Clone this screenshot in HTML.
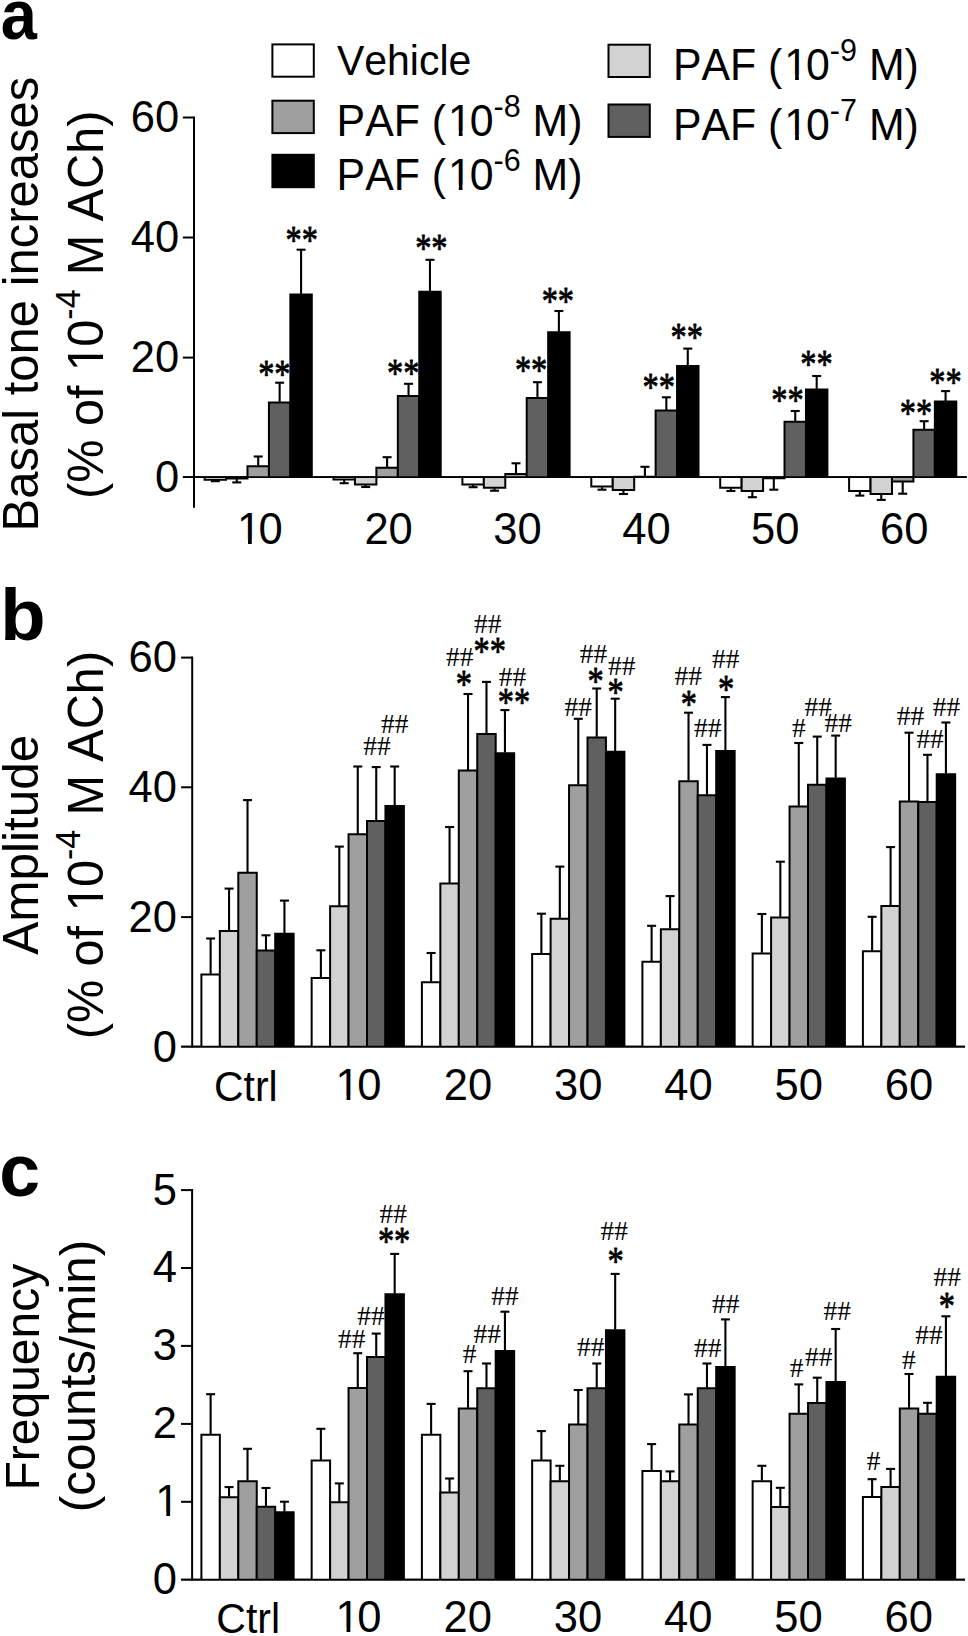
<!DOCTYPE html>
<html lang="en"><head><meta charset="utf-8"><title>Figure</title>
<style>html,body{margin:0;padding:0;background:#fff}svg{display:block}text{font-kerning:none;font-variant-ligatures:none}</style></head><body>
<svg width="968" height="1636" viewBox="0 0 968 1636">
<rect x="0" y="0" width="968" height="1636" fill="#fff"/>
<rect x="272.4" y="44.4" width="41.4" height="32.3" fill="#ffffff" stroke="#000" stroke-width="2"/>
<text transform="translate(336.9 74.5) scale(1 1.04)" font-family="'Liberation Sans', sans-serif" font-size="41" text-anchor="start">Vehicle</text>
<rect x="272.4" y="100.7" width="41.4" height="32.4" fill="#9f9f9f" stroke="#000" stroke-width="2"/>
<g transform="translate(336.6 135.5) scale(1 1.04)">
<text font-family="'Liberation Sans', sans-serif" font-size="42.8">PAF (<tspan dx="2">1</tspan><tspan dx="-2">0</tspan><tspan font-size="30.5" dy="-18">-8</tspan><tspan dy="18"> M)</tspan></text>
<rect x="113.11" y="-4.41" width="9.09" height="5.91" fill="#fff"/>
<rect x="125.95" y="-4.41" width="8.56" height="5.91" fill="#fff"/>
</g>
<rect x="272.4" y="154.8" width="41.4" height="32.4" fill="#000000" stroke="#000" stroke-width="2"/>
<g transform="translate(336.6 189.5) scale(1 1.04)">
<text font-family="'Liberation Sans', sans-serif" font-size="42.8">PAF (<tspan dx="2">1</tspan><tspan dx="-2">0</tspan><tspan font-size="30.5" dy="-18">-6</tspan><tspan dy="18"> M)</tspan></text>
<rect x="113.11" y="-4.41" width="9.09" height="5.91" fill="#fff"/>
<rect x="125.95" y="-4.41" width="8.56" height="5.91" fill="#fff"/>
</g>
<rect x="608.5" y="44.7" width="41.3" height="32.3" fill="#d2d2d2" stroke="#000" stroke-width="2"/>
<g transform="translate(672.9 79.5) scale(1 1.04)">
<text font-family="'Liberation Sans', sans-serif" font-size="42.8">PAF (<tspan dx="2">1</tspan><tspan dx="-2">0</tspan><tspan font-size="30.5" dy="-18">-9</tspan><tspan dy="18"> M)</tspan></text>
<rect x="113.11" y="-4.41" width="9.09" height="5.91" fill="#fff"/>
<rect x="125.95" y="-4.41" width="8.56" height="5.91" fill="#fff"/>
</g>
<rect x="608.5" y="104.5" width="41.3" height="32.4" fill="#606060" stroke="#000" stroke-width="2"/>
<g transform="translate(672.9 139.5) scale(1 1.04)">
<text font-family="'Liberation Sans', sans-serif" font-size="42.8">PAF (<tspan dx="2">1</tspan><tspan dx="-2">0</tspan><tspan font-size="30.5" dy="-18">-7</tspan><tspan dy="18"> M)</tspan></text>
<rect x="113.11" y="-4.41" width="9.09" height="5.91" fill="#fff"/>
<rect x="125.95" y="-4.41" width="8.56" height="5.91" fill="#fff"/>
</g>
<text transform="translate(0.7 39.2) scale(1 1.09)" font-family="'Liberation Sans', sans-serif" font-size="65" text-anchor="start" font-weight="bold">a</text>
<line x1="194" y1="116.5" x2="194" y2="507.7" stroke="#000" stroke-width="2" stroke-linecap="butt"/>
<line x1="182.9" y1="477.2" x2="966.7" y2="477.2" stroke="#000" stroke-width="1.8" stroke-linecap="butt"/>
<line x1="182.9" y1="117.5" x2="194" y2="117.5" stroke="#000" stroke-width="2" stroke-linecap="butt"/>
<line x1="182.9" y1="237.5" x2="194" y2="237.5" stroke="#000" stroke-width="2" stroke-linecap="butt"/>
<line x1="182.9" y1="357.6" x2="194" y2="357.6" stroke="#000" stroke-width="2" stroke-linecap="butt"/>
<text transform="translate(179.2 132.2) scale(1 1)" font-family="'Liberation Sans', sans-serif" font-size="43.5" text-anchor="end">60</text>
<text transform="translate(179.2 252.2) scale(1 1)" font-family="'Liberation Sans', sans-serif" font-size="43.5" text-anchor="end">40</text>
<text transform="translate(179.2 372.3) scale(1 1)" font-family="'Liberation Sans', sans-serif" font-size="43.5" text-anchor="end">20</text>
<text transform="translate(179.2 491.9) scale(1 1)" font-family="'Liberation Sans', sans-serif" font-size="43.5" text-anchor="end">0</text>
<text transform="translate(37.5 531.5) rotate(-90) scale(1 1.02)" font-family="'Liberation Sans', sans-serif" font-size="49" text-anchor="start">Basal tone increases</text>
<g transform="translate(102.5 499) rotate(-90) scale(1 1.02)">
<text font-family="'Liberation Sans', sans-serif" font-size="48.6">(% of <tspan dx="0.8">1</tspan><tspan dx="-2.4">0</tspan><tspan font-size="34" dy="-22">-4</tspan><tspan dy="22" dx="0.6"> M ACh)</tspan></text>
<rect x="129.69" y="-5.01" width="10.33" height="6.51" fill="#fff"/>
<rect x="144.27" y="-5.01" width="9.72" height="6.51" fill="#fff"/>
</g>
<line x1="215.32" y1="480.3" x2="215.32" y2="481.2" stroke="#000" stroke-width="2.1" stroke-linecap="butt"/>
<line x1="210.82" y1="481.2" x2="219.82" y2="481.2" stroke="#000" stroke-width="2.1" stroke-linecap="butt"/>
<line x1="236.76" y1="479" x2="236.76" y2="482.4" stroke="#000" stroke-width="2.1" stroke-linecap="butt"/>
<line x1="232.26" y1="482.4" x2="241.26" y2="482.4" stroke="#000" stroke-width="2.1" stroke-linecap="butt"/>
<line x1="258.2" y1="465.6" x2="258.2" y2="456.5" stroke="#000" stroke-width="2.1" stroke-linecap="butt"/>
<line x1="253.7" y1="456.5" x2="262.7" y2="456.5" stroke="#000" stroke-width="2.1" stroke-linecap="butt"/>
<line x1="279.64" y1="401.8" x2="279.64" y2="382.7" stroke="#000" stroke-width="2.1" stroke-linecap="butt"/>
<line x1="275.14" y1="382.7" x2="284.14" y2="382.7" stroke="#000" stroke-width="2.1" stroke-linecap="butt"/>
<line x1="301.08" y1="293.8" x2="301.08" y2="249.7" stroke="#000" stroke-width="2.1" stroke-linecap="butt"/>
<line x1="296.58" y1="249.7" x2="305.58" y2="249.7" stroke="#000" stroke-width="2.1" stroke-linecap="butt"/>
<path d="M204.6 477.2V479.7H226.04V477.2" fill="#ffffff" stroke="#000" stroke-width="2" stroke-linejoin="miter"/>
<path d="M226.04 477.2V478.4H247.48V477.2" fill="#d2d2d2" stroke="#000" stroke-width="2" stroke-linejoin="miter"/>
<path d="M247.48 477.2V466.2H268.92V477.2" fill="#9f9f9f" stroke="#000" stroke-width="2" stroke-linejoin="miter"/>
<path d="M268.92 477.2V402.4H290.36V477.2" fill="#606060" stroke="#000" stroke-width="2" stroke-linejoin="miter"/>
<path d="M290.36 477.2V294.4H311.8V477.2" fill="#000000" stroke="#000" stroke-width="2" stroke-linejoin="miter"/>
<line x1="344.22" y1="480" x2="344.22" y2="483.2" stroke="#000" stroke-width="2.1" stroke-linecap="butt"/>
<line x1="339.72" y1="483.2" x2="348.72" y2="483.2" stroke="#000" stroke-width="2.1" stroke-linecap="butt"/>
<line x1="365.66" y1="485.1" x2="365.66" y2="487" stroke="#000" stroke-width="2.1" stroke-linecap="butt"/>
<line x1="361.16" y1="487" x2="370.16" y2="487" stroke="#000" stroke-width="2.1" stroke-linecap="butt"/>
<line x1="387.1" y1="467.1" x2="387.1" y2="457.2" stroke="#000" stroke-width="2.1" stroke-linecap="butt"/>
<line x1="382.6" y1="457.2" x2="391.6" y2="457.2" stroke="#000" stroke-width="2.1" stroke-linecap="butt"/>
<line x1="408.54" y1="395.4" x2="408.54" y2="383.8" stroke="#000" stroke-width="2.1" stroke-linecap="butt"/>
<line x1="404.04" y1="383.8" x2="413.04" y2="383.8" stroke="#000" stroke-width="2.1" stroke-linecap="butt"/>
<line x1="429.98" y1="291.2" x2="429.98" y2="259.8" stroke="#000" stroke-width="2.1" stroke-linecap="butt"/>
<line x1="425.48" y1="259.8" x2="434.48" y2="259.8" stroke="#000" stroke-width="2.1" stroke-linecap="butt"/>
<path d="M333.5 477.2V479.4H354.94V477.2" fill="#ffffff" stroke="#000" stroke-width="2" stroke-linejoin="miter"/>
<path d="M354.94 477.2V484.5H376.38V477.2" fill="#d2d2d2" stroke="#000" stroke-width="2" stroke-linejoin="miter"/>
<path d="M376.38 477.2V467.7H397.82V477.2" fill="#9f9f9f" stroke="#000" stroke-width="2" stroke-linejoin="miter"/>
<path d="M397.82 477.2V396H419.26V477.2" fill="#606060" stroke="#000" stroke-width="2" stroke-linejoin="miter"/>
<path d="M419.26 477.2V291.8H440.7V477.2" fill="#000000" stroke="#000" stroke-width="2" stroke-linejoin="miter"/>
<line x1="473.12" y1="485.1" x2="473.12" y2="487.2" stroke="#000" stroke-width="2.1" stroke-linecap="butt"/>
<line x1="468.62" y1="487.2" x2="477.62" y2="487.2" stroke="#000" stroke-width="2.1" stroke-linecap="butt"/>
<line x1="494.56" y1="488.3" x2="494.56" y2="490.7" stroke="#000" stroke-width="2.1" stroke-linecap="butt"/>
<line x1="490.06" y1="490.7" x2="499.06" y2="490.7" stroke="#000" stroke-width="2.1" stroke-linecap="butt"/>
<line x1="516" y1="473.5" x2="516" y2="463.3" stroke="#000" stroke-width="2.1" stroke-linecap="butt"/>
<line x1="511.5" y1="463.3" x2="520.5" y2="463.3" stroke="#000" stroke-width="2.1" stroke-linecap="butt"/>
<line x1="537.44" y1="397.5" x2="537.44" y2="382.2" stroke="#000" stroke-width="2.1" stroke-linecap="butt"/>
<line x1="532.94" y1="382.2" x2="541.94" y2="382.2" stroke="#000" stroke-width="2.1" stroke-linecap="butt"/>
<line x1="558.88" y1="331.7" x2="558.88" y2="311" stroke="#000" stroke-width="2.1" stroke-linecap="butt"/>
<line x1="554.38" y1="311" x2="563.38" y2="311" stroke="#000" stroke-width="2.1" stroke-linecap="butt"/>
<path d="M462.4 477.2V484.5H483.84V477.2" fill="#ffffff" stroke="#000" stroke-width="2" stroke-linejoin="miter"/>
<path d="M483.84 477.2V487.7H505.28V477.2" fill="#d2d2d2" stroke="#000" stroke-width="2" stroke-linejoin="miter"/>
<path d="M505.28 477.2V474.1H526.72V477.2" fill="#9f9f9f" stroke="#000" stroke-width="2" stroke-linejoin="miter"/>
<path d="M526.72 477.2V398.1H548.16V477.2" fill="#606060" stroke="#000" stroke-width="2" stroke-linejoin="miter"/>
<path d="M548.16 477.2V332.3H569.6V477.2" fill="#000000" stroke="#000" stroke-width="2" stroke-linejoin="miter"/>
<line x1="602.02" y1="487.2" x2="602.02" y2="489.7" stroke="#000" stroke-width="2.1" stroke-linecap="butt"/>
<line x1="597.52" y1="489.7" x2="606.52" y2="489.7" stroke="#000" stroke-width="2.1" stroke-linecap="butt"/>
<line x1="623.46" y1="490.5" x2="623.46" y2="494" stroke="#000" stroke-width="2.1" stroke-linecap="butt"/>
<line x1="618.96" y1="494" x2="627.96" y2="494" stroke="#000" stroke-width="2.1" stroke-linecap="butt"/>
<line x1="644.9" y1="476.2" x2="644.9" y2="466.8" stroke="#000" stroke-width="2.1" stroke-linecap="butt"/>
<line x1="640.4" y1="466.8" x2="649.4" y2="466.8" stroke="#000" stroke-width="2.1" stroke-linecap="butt"/>
<line x1="666.34" y1="409.9" x2="666.34" y2="397.3" stroke="#000" stroke-width="2.1" stroke-linecap="butt"/>
<line x1="661.84" y1="397.3" x2="670.84" y2="397.3" stroke="#000" stroke-width="2.1" stroke-linecap="butt"/>
<line x1="687.78" y1="365.3" x2="687.78" y2="348.6" stroke="#000" stroke-width="2.1" stroke-linecap="butt"/>
<line x1="683.28" y1="348.6" x2="692.28" y2="348.6" stroke="#000" stroke-width="2.1" stroke-linecap="butt"/>
<path d="M591.3 477.2V486.6H612.74V477.2" fill="#ffffff" stroke="#000" stroke-width="2" stroke-linejoin="miter"/>
<path d="M612.74 477.2V489.9H634.18V477.2" fill="#d2d2d2" stroke="#000" stroke-width="2" stroke-linejoin="miter"/>
<path d="M634.18 477.2V476.8H655.62V477.2" fill="#9f9f9f" stroke="#000" stroke-width="2" stroke-linejoin="miter"/>
<path d="M655.62 477.2V410.5H677.06V477.2" fill="#606060" stroke="#000" stroke-width="2" stroke-linejoin="miter"/>
<path d="M677.06 477.2V365.9H698.5V477.2" fill="#000000" stroke="#000" stroke-width="2" stroke-linejoin="miter"/>
<line x1="730.92" y1="488.3" x2="730.92" y2="491" stroke="#000" stroke-width="2.1" stroke-linecap="butt"/>
<line x1="726.42" y1="491" x2="735.42" y2="491" stroke="#000" stroke-width="2.1" stroke-linecap="butt"/>
<line x1="752.36" y1="491.5" x2="752.36" y2="497.2" stroke="#000" stroke-width="2.1" stroke-linecap="butt"/>
<line x1="747.86" y1="497.2" x2="756.86" y2="497.2" stroke="#000" stroke-width="2.1" stroke-linecap="butt"/>
<line x1="773.8" y1="478.9" x2="773.8" y2="489.7" stroke="#000" stroke-width="2.1" stroke-linecap="butt"/>
<line x1="769.3" y1="489.7" x2="778.3" y2="489.7" stroke="#000" stroke-width="2.1" stroke-linecap="butt"/>
<line x1="795.24" y1="421.2" x2="795.24" y2="411" stroke="#000" stroke-width="2.1" stroke-linecap="butt"/>
<line x1="790.74" y1="411" x2="799.74" y2="411" stroke="#000" stroke-width="2.1" stroke-linecap="butt"/>
<line x1="816.68" y1="388.9" x2="816.68" y2="376" stroke="#000" stroke-width="2.1" stroke-linecap="butt"/>
<line x1="812.18" y1="376" x2="821.18" y2="376" stroke="#000" stroke-width="2.1" stroke-linecap="butt"/>
<path d="M720.2 477.2V487.7H741.64V477.2" fill="#ffffff" stroke="#000" stroke-width="2" stroke-linejoin="miter"/>
<path d="M741.64 477.2V490.9H763.08V477.2" fill="#d2d2d2" stroke="#000" stroke-width="2" stroke-linejoin="miter"/>
<path d="M763.08 477.2V478.3H784.52V477.2" fill="#9f9f9f" stroke="#000" stroke-width="2" stroke-linejoin="miter"/>
<path d="M784.52 477.2V421.8H805.96V477.2" fill="#606060" stroke="#000" stroke-width="2" stroke-linejoin="miter"/>
<path d="M805.96 477.2V389.5H827.4V477.2" fill="#000000" stroke="#000" stroke-width="2" stroke-linejoin="miter"/>
<line x1="859.82" y1="491.5" x2="859.82" y2="495.6" stroke="#000" stroke-width="2.1" stroke-linecap="butt"/>
<line x1="855.32" y1="495.6" x2="864.32" y2="495.6" stroke="#000" stroke-width="2.1" stroke-linecap="butt"/>
<line x1="881.26" y1="494.5" x2="881.26" y2="499.9" stroke="#000" stroke-width="2.1" stroke-linecap="butt"/>
<line x1="876.76" y1="499.9" x2="885.76" y2="499.9" stroke="#000" stroke-width="2.1" stroke-linecap="butt"/>
<line x1="902.7" y1="482.1" x2="902.7" y2="493.7" stroke="#000" stroke-width="2.1" stroke-linecap="butt"/>
<line x1="898.2" y1="493.7" x2="907.2" y2="493.7" stroke="#000" stroke-width="2.1" stroke-linecap="butt"/>
<line x1="924.14" y1="429.2" x2="924.14" y2="421.2" stroke="#000" stroke-width="2.1" stroke-linecap="butt"/>
<line x1="919.64" y1="421.2" x2="928.64" y2="421.2" stroke="#000" stroke-width="2.1" stroke-linecap="butt"/>
<line x1="945.58" y1="401" x2="945.58" y2="391.1" stroke="#000" stroke-width="2.1" stroke-linecap="butt"/>
<line x1="941.08" y1="391.1" x2="950.08" y2="391.1" stroke="#000" stroke-width="2.1" stroke-linecap="butt"/>
<path d="M849.1 477.2V490.9H870.54V477.2" fill="#ffffff" stroke="#000" stroke-width="2" stroke-linejoin="miter"/>
<path d="M870.54 477.2V493.9H891.98V477.2" fill="#d2d2d2" stroke="#000" stroke-width="2" stroke-linejoin="miter"/>
<path d="M891.98 477.2V481.5H913.42V477.2" fill="#9f9f9f" stroke="#000" stroke-width="2" stroke-linejoin="miter"/>
<path d="M913.42 477.2V429.8H934.86V477.2" fill="#606060" stroke="#000" stroke-width="2" stroke-linejoin="miter"/>
<path d="M934.86 477.2V401.6H956.3V477.2" fill="#000000" stroke="#000" stroke-width="2" stroke-linejoin="miter"/>
<line x1="182.9" y1="477.2" x2="966.7" y2="477.2" stroke="#000" stroke-width="1.8" stroke-linecap="butt"/>
<g transform="translate(235.01 544)">
<text font-family="'Liberation Sans', sans-serif" font-size="43.5"><tspan dx="2">1</tspan><tspan dx="-2.6">0</tspan></text>
<rect x="3.74" y="-4.48" width="9.24" height="5.98" fill="#fff"/>
<rect x="16.79" y="-4.48" width="8.7" height="5.98" fill="#fff"/>
</g>
<text transform="translate(388.6 544) scale(1 1)" font-family="'Liberation Sans', sans-serif" font-size="43.5" text-anchor="middle">20</text>
<text transform="translate(517.5 544) scale(1 1)" font-family="'Liberation Sans', sans-serif" font-size="43.5" text-anchor="middle">30</text>
<text transform="translate(646.4 544) scale(1 1)" font-family="'Liberation Sans', sans-serif" font-size="43.5" text-anchor="middle">40</text>
<text transform="translate(775.3 544) scale(1 1)" font-family="'Liberation Sans', sans-serif" font-size="43.5" text-anchor="middle">50</text>
<text transform="translate(904.2 544) scale(1 1)" font-family="'Liberation Sans', sans-serif" font-size="43.5" text-anchor="middle">60</text>
<text transform="translate(274.35 386.68) scale(1 1.22)" font-family="'Liberation Serif', serif" font-size="32.4" text-anchor="middle" stroke="#000" stroke-width="0.7" stroke-linejoin="round">**</text>
<text transform="translate(301.75 252.88) scale(1 1.22)" font-family="'Liberation Serif', serif" font-size="32.4" text-anchor="middle" stroke="#000" stroke-width="0.7" stroke-linejoin="round">**</text>
<text transform="translate(403.15 385.78) scale(1 1.22)" font-family="'Liberation Serif', serif" font-size="32.4" text-anchor="middle" stroke="#000" stroke-width="0.7" stroke-linejoin="round">**</text>
<text transform="translate(431.35 261.38) scale(1 1.22)" font-family="'Liberation Serif', serif" font-size="32.4" text-anchor="middle" stroke="#000" stroke-width="0.7" stroke-linejoin="round">**</text>
<text transform="translate(531.1 382.88) scale(1 1.22)" font-family="'Liberation Serif', serif" font-size="32.4" text-anchor="middle" stroke="#000" stroke-width="0.7" stroke-linejoin="round">**</text>
<text transform="translate(557.85 314.38) scale(1 1.22)" font-family="'Liberation Serif', serif" font-size="32.4" text-anchor="middle" stroke="#000" stroke-width="0.7" stroke-linejoin="round">**</text>
<text transform="translate(658.75 399.78) scale(1 1.22)" font-family="'Liberation Serif', serif" font-size="32.4" text-anchor="middle" stroke="#000" stroke-width="0.7" stroke-linejoin="round">**</text>
<text transform="translate(686.65 350.08) scale(1 1.22)" font-family="'Liberation Serif', serif" font-size="32.4" text-anchor="middle" stroke="#000" stroke-width="0.7" stroke-linejoin="round">**</text>
<text transform="translate(787.5 413.18) scale(1 1.22)" font-family="'Liberation Serif', serif" font-size="32.4" text-anchor="middle" stroke="#000" stroke-width="0.7" stroke-linejoin="round">**</text>
<text transform="translate(816.5 377.38) scale(1 1.22)" font-family="'Liberation Serif', serif" font-size="32.4" text-anchor="middle" stroke="#000" stroke-width="0.7" stroke-linejoin="round">**</text>
<text transform="translate(915.9 425.78) scale(1 1.22)" font-family="'Liberation Serif', serif" font-size="32.4" text-anchor="middle" stroke="#000" stroke-width="0.7" stroke-linejoin="round">**</text>
<text transform="translate(945.45 394.98) scale(1 1.22)" font-family="'Liberation Serif', serif" font-size="32.4" text-anchor="middle" stroke="#000" stroke-width="0.7" stroke-linejoin="round">**</text>
<text transform="translate(0.13 639.5) scale(1 0.98)" font-family="'Liberation Sans', sans-serif" font-size="74.3" text-anchor="start" font-weight="bold">b</text>
<line x1="192.2" y1="656.6" x2="192.2" y2="1047.6" stroke="#000" stroke-width="2" stroke-linecap="butt"/>
<line x1="181.1" y1="1046.6" x2="965" y2="1046.6" stroke="#000" stroke-width="1.8" stroke-linecap="butt"/>
<line x1="181.1" y1="657.6" x2="192.2" y2="657.6" stroke="#000" stroke-width="2" stroke-linecap="butt"/>
<line x1="181.1" y1="787.3" x2="192.2" y2="787.3" stroke="#000" stroke-width="2" stroke-linecap="butt"/>
<line x1="181.1" y1="917.1" x2="192.2" y2="917.1" stroke="#000" stroke-width="2" stroke-linecap="butt"/>
<text transform="translate(177 672.3) scale(1 1)" font-family="'Liberation Sans', sans-serif" font-size="43.5" text-anchor="end">60</text>
<text transform="translate(177 802) scale(1 1)" font-family="'Liberation Sans', sans-serif" font-size="43.5" text-anchor="end">40</text>
<text transform="translate(177 931.8) scale(1 1)" font-family="'Liberation Sans', sans-serif" font-size="43.5" text-anchor="end">20</text>
<text transform="translate(177 1061.5) scale(1 1)" font-family="'Liberation Sans', sans-serif" font-size="43.5" text-anchor="end">0</text>
<text transform="translate(37.5 954.75) rotate(-90) scale(1 1.02)" font-family="'Liberation Sans', sans-serif" font-size="49.5" text-anchor="start">Amplitude</text>
<g transform="translate(102.5 1039.3) rotate(-90) scale(1 1.02)">
<text font-family="'Liberation Sans', sans-serif" font-size="48.6">(% of <tspan dx="0.8">1</tspan><tspan dx="-2.4">0</tspan><tspan font-size="34" dy="-22">-4</tspan><tspan dy="22" dx="0.6"> M ACh)</tspan></text>
<rect x="129.69" y="-5.01" width="10.33" height="6.51" fill="#fff"/>
<rect x="144.27" y="-5.01" width="9.72" height="6.51" fill="#fff"/>
</g>
<line x1="210.62" y1="973.9" x2="210.62" y2="938.5" stroke="#000" stroke-width="2.1" stroke-linecap="butt"/>
<line x1="206.12" y1="938.5" x2="215.12" y2="938.5" stroke="#000" stroke-width="2.1" stroke-linecap="butt"/>
<line x1="229.07" y1="930.5" x2="229.07" y2="888.6" stroke="#000" stroke-width="2.1" stroke-linecap="butt"/>
<line x1="224.57" y1="888.6" x2="233.57" y2="888.6" stroke="#000" stroke-width="2.1" stroke-linecap="butt"/>
<line x1="247.53" y1="872.1" x2="247.53" y2="800.1" stroke="#000" stroke-width="2.1" stroke-linecap="butt"/>
<line x1="243.03" y1="800.1" x2="252.03" y2="800.1" stroke="#000" stroke-width="2.1" stroke-linecap="butt"/>
<line x1="265.98" y1="950" x2="265.98" y2="935.3" stroke="#000" stroke-width="2.1" stroke-linecap="butt"/>
<line x1="261.48" y1="935.3" x2="270.48" y2="935.3" stroke="#000" stroke-width="2.1" stroke-linecap="butt"/>
<line x1="284.43" y1="933.1" x2="284.43" y2="900.6" stroke="#000" stroke-width="2.1" stroke-linecap="butt"/>
<line x1="279.93" y1="900.6" x2="288.93" y2="900.6" stroke="#000" stroke-width="2.1" stroke-linecap="butt"/>
<path d="M201.4 1046.6V974.5H219.85V1046.6" fill="#ffffff" stroke="#000" stroke-width="2" stroke-linejoin="miter"/>
<path d="M219.85 1046.6V931.1H238.3V1046.6" fill="#d2d2d2" stroke="#000" stroke-width="2" stroke-linejoin="miter"/>
<path d="M238.3 1046.6V872.7H256.75V1046.6" fill="#9f9f9f" stroke="#000" stroke-width="2" stroke-linejoin="miter"/>
<path d="M256.75 1046.6V950.6H275.2V1046.6" fill="#606060" stroke="#000" stroke-width="2" stroke-linejoin="miter"/>
<path d="M275.2 1046.6V933.7H293.65V1046.6" fill="#000000" stroke="#000" stroke-width="2" stroke-linejoin="miter"/>
<line x1="320.88" y1="977.4" x2="320.88" y2="950.3" stroke="#000" stroke-width="2.1" stroke-linecap="butt"/>
<line x1="316.38" y1="950.3" x2="325.38" y2="950.3" stroke="#000" stroke-width="2.1" stroke-linecap="butt"/>
<line x1="339.32" y1="905.7" x2="339.32" y2="846.6" stroke="#000" stroke-width="2.1" stroke-linecap="butt"/>
<line x1="334.82" y1="846.6" x2="343.82" y2="846.6" stroke="#000" stroke-width="2.1" stroke-linecap="butt"/>
<line x1="357.77" y1="833.7" x2="357.77" y2="766.5" stroke="#000" stroke-width="2.1" stroke-linecap="butt"/>
<line x1="353.27" y1="766.5" x2="362.27" y2="766.5" stroke="#000" stroke-width="2.1" stroke-linecap="butt"/>
<line x1="376.23" y1="820.3" x2="376.23" y2="767.1" stroke="#000" stroke-width="2.1" stroke-linecap="butt"/>
<line x1="371.73" y1="767.1" x2="380.73" y2="767.1" stroke="#000" stroke-width="2.1" stroke-linecap="butt"/>
<line x1="394.68" y1="805.5" x2="394.68" y2="766.5" stroke="#000" stroke-width="2.1" stroke-linecap="butt"/>
<line x1="390.18" y1="766.5" x2="399.18" y2="766.5" stroke="#000" stroke-width="2.1" stroke-linecap="butt"/>
<path d="M311.65 1046.6V978H330.1V1046.6" fill="#ffffff" stroke="#000" stroke-width="2" stroke-linejoin="miter"/>
<path d="M330.1 1046.6V906.3H348.55V1046.6" fill="#d2d2d2" stroke="#000" stroke-width="2" stroke-linejoin="miter"/>
<path d="M348.55 1046.6V834.3H367V1046.6" fill="#9f9f9f" stroke="#000" stroke-width="2" stroke-linejoin="miter"/>
<path d="M367 1046.6V820.9H385.45V1046.6" fill="#606060" stroke="#000" stroke-width="2" stroke-linejoin="miter"/>
<path d="M385.45 1046.6V806.1H403.9V1046.6" fill="#000000" stroke="#000" stroke-width="2" stroke-linejoin="miter"/>
<line x1="431.12" y1="981.7" x2="431.12" y2="953" stroke="#000" stroke-width="2.1" stroke-linecap="butt"/>
<line x1="426.62" y1="953" x2="435.62" y2="953" stroke="#000" stroke-width="2.1" stroke-linecap="butt"/>
<line x1="449.57" y1="883" x2="449.57" y2="827" stroke="#000" stroke-width="2.1" stroke-linecap="butt"/>
<line x1="445.07" y1="827" x2="454.07" y2="827" stroke="#000" stroke-width="2.1" stroke-linecap="butt"/>
<line x1="468.02" y1="770" x2="468.02" y2="694" stroke="#000" stroke-width="2.1" stroke-linecap="butt"/>
<line x1="463.52" y1="694" x2="472.52" y2="694" stroke="#000" stroke-width="2.1" stroke-linecap="butt"/>
<line x1="486.48" y1="733.5" x2="486.48" y2="681.9" stroke="#000" stroke-width="2.1" stroke-linecap="butt"/>
<line x1="481.98" y1="681.9" x2="490.98" y2="681.9" stroke="#000" stroke-width="2.1" stroke-linecap="butt"/>
<line x1="504.93" y1="752.6" x2="504.93" y2="710.1" stroke="#000" stroke-width="2.1" stroke-linecap="butt"/>
<line x1="500.43" y1="710.1" x2="509.43" y2="710.1" stroke="#000" stroke-width="2.1" stroke-linecap="butt"/>
<path d="M421.9 1046.6V982.3H440.35V1046.6" fill="#ffffff" stroke="#000" stroke-width="2" stroke-linejoin="miter"/>
<path d="M440.35 1046.6V883.6H458.8V1046.6" fill="#d2d2d2" stroke="#000" stroke-width="2" stroke-linejoin="miter"/>
<path d="M458.8 1046.6V770.6H477.25V1046.6" fill="#9f9f9f" stroke="#000" stroke-width="2" stroke-linejoin="miter"/>
<path d="M477.25 1046.6V734.1H495.7V1046.6" fill="#606060" stroke="#000" stroke-width="2" stroke-linejoin="miter"/>
<path d="M495.7 1046.6V753.2H514.15V1046.6" fill="#000000" stroke="#000" stroke-width="2" stroke-linejoin="miter"/>
<line x1="541.38" y1="953.4" x2="541.38" y2="913.7" stroke="#000" stroke-width="2.1" stroke-linecap="butt"/>
<line x1="536.88" y1="913.7" x2="545.88" y2="913.7" stroke="#000" stroke-width="2.1" stroke-linecap="butt"/>
<line x1="559.83" y1="918.1" x2="559.83" y2="866.6" stroke="#000" stroke-width="2.1" stroke-linecap="butt"/>
<line x1="555.33" y1="866.6" x2="564.33" y2="866.6" stroke="#000" stroke-width="2.1" stroke-linecap="butt"/>
<line x1="578.27" y1="784.7" x2="578.27" y2="718.8" stroke="#000" stroke-width="2.1" stroke-linecap="butt"/>
<line x1="573.77" y1="718.8" x2="582.77" y2="718.8" stroke="#000" stroke-width="2.1" stroke-linecap="butt"/>
<line x1="596.73" y1="736.8" x2="596.73" y2="688.5" stroke="#000" stroke-width="2.1" stroke-linecap="butt"/>
<line x1="592.23" y1="688.5" x2="601.23" y2="688.5" stroke="#000" stroke-width="2.1" stroke-linecap="butt"/>
<line x1="615.17" y1="751.1" x2="615.17" y2="698.7" stroke="#000" stroke-width="2.1" stroke-linecap="butt"/>
<line x1="610.67" y1="698.7" x2="619.67" y2="698.7" stroke="#000" stroke-width="2.1" stroke-linecap="butt"/>
<path d="M532.15 1046.6V954H550.6V1046.6" fill="#ffffff" stroke="#000" stroke-width="2" stroke-linejoin="miter"/>
<path d="M550.6 1046.6V918.7H569.05V1046.6" fill="#d2d2d2" stroke="#000" stroke-width="2" stroke-linejoin="miter"/>
<path d="M569.05 1046.6V785.3H587.5V1046.6" fill="#9f9f9f" stroke="#000" stroke-width="2" stroke-linejoin="miter"/>
<path d="M587.5 1046.6V737.4H605.95V1046.6" fill="#606060" stroke="#000" stroke-width="2" stroke-linejoin="miter"/>
<path d="M605.95 1046.6V751.7H624.4V1046.6" fill="#000000" stroke="#000" stroke-width="2" stroke-linejoin="miter"/>
<line x1="651.62" y1="961.1" x2="651.62" y2="925.8" stroke="#000" stroke-width="2.1" stroke-linecap="butt"/>
<line x1="647.12" y1="925.8" x2="656.12" y2="925.8" stroke="#000" stroke-width="2.1" stroke-linecap="butt"/>
<line x1="670.08" y1="928.6" x2="670.08" y2="896.1" stroke="#000" stroke-width="2.1" stroke-linecap="butt"/>
<line x1="665.58" y1="896.1" x2="674.58" y2="896.1" stroke="#000" stroke-width="2.1" stroke-linecap="butt"/>
<line x1="688.52" y1="780.6" x2="688.52" y2="712.7" stroke="#000" stroke-width="2.1" stroke-linecap="butt"/>
<line x1="684.02" y1="712.7" x2="693.02" y2="712.7" stroke="#000" stroke-width="2.1" stroke-linecap="butt"/>
<line x1="706.98" y1="794.6" x2="706.98" y2="744.9" stroke="#000" stroke-width="2.1" stroke-linecap="butt"/>
<line x1="702.48" y1="744.9" x2="711.48" y2="744.9" stroke="#000" stroke-width="2.1" stroke-linecap="butt"/>
<line x1="725.42" y1="750.3" x2="725.42" y2="697.1" stroke="#000" stroke-width="2.1" stroke-linecap="butt"/>
<line x1="720.92" y1="697.1" x2="729.92" y2="697.1" stroke="#000" stroke-width="2.1" stroke-linecap="butt"/>
<path d="M642.4 1046.6V961.7H660.85V1046.6" fill="#ffffff" stroke="#000" stroke-width="2" stroke-linejoin="miter"/>
<path d="M660.85 1046.6V929.2H679.3V1046.6" fill="#d2d2d2" stroke="#000" stroke-width="2" stroke-linejoin="miter"/>
<path d="M679.3 1046.6V781.2H697.75V1046.6" fill="#9f9f9f" stroke="#000" stroke-width="2" stroke-linejoin="miter"/>
<path d="M697.75 1046.6V795.2H716.2V1046.6" fill="#606060" stroke="#000" stroke-width="2" stroke-linejoin="miter"/>
<path d="M716.2 1046.6V750.9H734.65V1046.6" fill="#000000" stroke="#000" stroke-width="2" stroke-linejoin="miter"/>
<line x1="761.88" y1="952.8" x2="761.88" y2="914" stroke="#000" stroke-width="2.1" stroke-linecap="butt"/>
<line x1="757.38" y1="914" x2="766.38" y2="914" stroke="#000" stroke-width="2.1" stroke-linecap="butt"/>
<line x1="780.33" y1="916.8" x2="780.33" y2="861.7" stroke="#000" stroke-width="2.1" stroke-linecap="butt"/>
<line x1="775.83" y1="861.7" x2="784.83" y2="861.7" stroke="#000" stroke-width="2.1" stroke-linecap="butt"/>
<line x1="798.77" y1="805.8" x2="798.77" y2="743" stroke="#000" stroke-width="2.1" stroke-linecap="butt"/>
<line x1="794.27" y1="743" x2="803.27" y2="743" stroke="#000" stroke-width="2.1" stroke-linecap="butt"/>
<line x1="817.23" y1="784.2" x2="817.23" y2="736.6" stroke="#000" stroke-width="2.1" stroke-linecap="butt"/>
<line x1="812.73" y1="736.6" x2="821.73" y2="736.6" stroke="#000" stroke-width="2.1" stroke-linecap="butt"/>
<line x1="835.67" y1="777.8" x2="835.67" y2="735.6" stroke="#000" stroke-width="2.1" stroke-linecap="butt"/>
<line x1="831.17" y1="735.6" x2="840.17" y2="735.6" stroke="#000" stroke-width="2.1" stroke-linecap="butt"/>
<path d="M752.65 1046.6V953.4H771.1V1046.6" fill="#ffffff" stroke="#000" stroke-width="2" stroke-linejoin="miter"/>
<path d="M771.1 1046.6V917.4H789.55V1046.6" fill="#d2d2d2" stroke="#000" stroke-width="2" stroke-linejoin="miter"/>
<path d="M789.55 1046.6V806.4H808V1046.6" fill="#9f9f9f" stroke="#000" stroke-width="2" stroke-linejoin="miter"/>
<path d="M808 1046.6V784.8H826.45V1046.6" fill="#606060" stroke="#000" stroke-width="2" stroke-linejoin="miter"/>
<path d="M826.45 1046.6V778.4H844.9V1046.6" fill="#000000" stroke="#000" stroke-width="2" stroke-linejoin="miter"/>
<line x1="872.12" y1="950.6" x2="872.12" y2="916.8" stroke="#000" stroke-width="2.1" stroke-linecap="butt"/>
<line x1="867.62" y1="916.8" x2="876.62" y2="916.8" stroke="#000" stroke-width="2.1" stroke-linecap="butt"/>
<line x1="890.58" y1="905.4" x2="890.58" y2="847.1" stroke="#000" stroke-width="2.1" stroke-linecap="butt"/>
<line x1="886.08" y1="847.1" x2="895.08" y2="847.1" stroke="#000" stroke-width="2.1" stroke-linecap="butt"/>
<line x1="909.02" y1="800.9" x2="909.02" y2="732.7" stroke="#000" stroke-width="2.1" stroke-linecap="butt"/>
<line x1="904.52" y1="732.7" x2="913.52" y2="732.7" stroke="#000" stroke-width="2.1" stroke-linecap="butt"/>
<line x1="927.48" y1="801.4" x2="927.48" y2="754.8" stroke="#000" stroke-width="2.1" stroke-linecap="butt"/>
<line x1="922.98" y1="754.8" x2="931.98" y2="754.8" stroke="#000" stroke-width="2.1" stroke-linecap="butt"/>
<line x1="945.92" y1="773.7" x2="945.92" y2="722.5" stroke="#000" stroke-width="2.1" stroke-linecap="butt"/>
<line x1="941.42" y1="722.5" x2="950.42" y2="722.5" stroke="#000" stroke-width="2.1" stroke-linecap="butt"/>
<path d="M862.9 1046.6V951.2H881.35V1046.6" fill="#ffffff" stroke="#000" stroke-width="2" stroke-linejoin="miter"/>
<path d="M881.35 1046.6V906H899.8V1046.6" fill="#d2d2d2" stroke="#000" stroke-width="2" stroke-linejoin="miter"/>
<path d="M899.8 1046.6V801.5H918.25V1046.6" fill="#9f9f9f" stroke="#000" stroke-width="2" stroke-linejoin="miter"/>
<path d="M918.25 1046.6V802H936.7V1046.6" fill="#606060" stroke="#000" stroke-width="2" stroke-linejoin="miter"/>
<path d="M936.7 1046.6V774.3H955.15V1046.6" fill="#000000" stroke="#000" stroke-width="2" stroke-linejoin="miter"/>
<line x1="181.1" y1="1046.6" x2="965" y2="1046.6" stroke="#000" stroke-width="1.8" stroke-linecap="butt"/>
<text transform="translate(245.8 1101.4) scale(1 1.04)" font-family="'Liberation Sans', sans-serif" font-size="41" text-anchor="middle">Ctrl</text>
<g transform="translate(333.56 1100.2)">
<text font-family="'Liberation Sans', sans-serif" font-size="43.5"><tspan dx="2">1</tspan><tspan dx="-2.6">0</tspan></text>
<rect x="3.74" y="-4.48" width="9.24" height="5.98" fill="#fff"/>
<rect x="16.79" y="-4.48" width="8.7" height="5.98" fill="#fff"/>
</g>
<text transform="translate(468 1100.2) scale(1 1)" font-family="'Liberation Sans', sans-serif" font-size="43.5" text-anchor="middle">20</text>
<text transform="translate(578.25 1100.2) scale(1 1)" font-family="'Liberation Sans', sans-serif" font-size="43.5" text-anchor="middle">30</text>
<text transform="translate(688.5 1100.2) scale(1 1)" font-family="'Liberation Sans', sans-serif" font-size="43.5" text-anchor="middle">40</text>
<text transform="translate(798.75 1100.2) scale(1 1)" font-family="'Liberation Sans', sans-serif" font-size="43.5" text-anchor="middle">50</text>
<text transform="translate(909 1100.2) scale(1 1)" font-family="'Liberation Sans', sans-serif" font-size="43.5" text-anchor="middle">60</text>
<text x="376.95" y="755.27" font-family="'Liberation Serif', serif" font-size="27.4" text-anchor="middle">##</text>
<text x="394.7" y="732.97" font-family="'Liberation Serif', serif" font-size="27.4" text-anchor="middle">##</text>
<text x="459.8" y="666.27" font-family="'Liberation Serif', serif" font-size="27.4" text-anchor="middle">##</text>
<text transform="translate(463.85 697.38) scale(1 1.22)" font-family="'Liberation Serif', serif" font-size="32.4" text-anchor="middle" stroke="#000" stroke-width="0.7" stroke-linejoin="round">*</text>
<text x="487.75" y="632.77" font-family="'Liberation Serif', serif" font-size="27.4" text-anchor="middle">##</text>
<text transform="translate(489.65 663.78) scale(1 1.22)" font-family="'Liberation Serif', serif" font-size="32.4" text-anchor="middle" stroke="#000" stroke-width="0.7" stroke-linejoin="round">**</text>
<text x="512.45" y="685.97" font-family="'Liberation Serif', serif" font-size="27.4" text-anchor="middle">##</text>
<text transform="translate(513.95 714.78) scale(1 1.22)" font-family="'Liberation Serif', serif" font-size="32.4" text-anchor="middle" stroke="#000" stroke-width="0.7" stroke-linejoin="round">**</text>
<text x="578.15" y="715.87" font-family="'Liberation Serif', serif" font-size="27.4" text-anchor="middle">##</text>
<text x="593.45" y="663.47" font-family="'Liberation Serif', serif" font-size="27.4" text-anchor="middle">##</text>
<text transform="translate(595.6 694.48) scale(1 1.22)" font-family="'Liberation Serif', serif" font-size="32.4" text-anchor="middle" stroke="#000" stroke-width="0.7" stroke-linejoin="round">*</text>
<text x="621.8" y="675.07" font-family="'Liberation Serif', serif" font-size="27.4" text-anchor="middle">##</text>
<text transform="translate(615.65 705.28) scale(1 1.22)" font-family="'Liberation Serif', serif" font-size="32.4" text-anchor="middle" stroke="#000" stroke-width="0.7" stroke-linejoin="round">*</text>
<text x="688.3" y="684.97" font-family="'Liberation Serif', serif" font-size="27.4" text-anchor="middle">##</text>
<text transform="translate(688.95 717.38) scale(1 1.22)" font-family="'Liberation Serif', serif" font-size="32.4" text-anchor="middle" stroke="#000" stroke-width="0.7" stroke-linejoin="round">*</text>
<text x="707.75" y="737.37" font-family="'Liberation Serif', serif" font-size="27.4" text-anchor="middle">##</text>
<text x="725.75" y="668.27" font-family="'Liberation Serif', serif" font-size="27.4" text-anchor="middle">##</text>
<text transform="translate(726 701.78) scale(1 1.22)" font-family="'Liberation Serif', serif" font-size="32.4" text-anchor="middle" stroke="#000" stroke-width="0.7" stroke-linejoin="round">*</text>
<text x="798.8" y="737.37" font-family="'Liberation Serif', serif" font-size="27.4" text-anchor="middle">#</text>
<text x="818.3" y="716.37" font-family="'Liberation Serif', serif" font-size="27.4" text-anchor="middle">##</text>
<text x="838.2" y="732.17" font-family="'Liberation Serif', serif" font-size="27.4" text-anchor="middle">##</text>
<text x="910.5" y="725.07" font-family="'Liberation Serif', serif" font-size="27.4" text-anchor="middle">##</text>
<text x="930.1" y="748.37" font-family="'Liberation Serif', serif" font-size="27.4" text-anchor="middle">##</text>
<text x="946.4" y="716.37" font-family="'Liberation Serif', serif" font-size="27.4" text-anchor="middle">##</text>
<text transform="translate(-0.77 1195.7) scale(1 1)" font-family="'Liberation Sans', sans-serif" font-size="73.4" text-anchor="start" font-weight="bold">c</text>
<line x1="192.1" y1="1189.1" x2="192.1" y2="1580.7" stroke="#000" stroke-width="2" stroke-linecap="butt"/>
<line x1="181" y1="1579.7" x2="965" y2="1579.7" stroke="#000" stroke-width="1.8" stroke-linecap="butt"/>
<line x1="181" y1="1190.1" x2="192.1" y2="1190.1" stroke="#000" stroke-width="2" stroke-linecap="butt"/>
<line x1="181" y1="1268" x2="192.1" y2="1268" stroke="#000" stroke-width="2" stroke-linecap="butt"/>
<line x1="181" y1="1345.9" x2="192.1" y2="1345.9" stroke="#000" stroke-width="2" stroke-linecap="butt"/>
<line x1="181" y1="1423.9" x2="192.1" y2="1423.9" stroke="#000" stroke-width="2" stroke-linecap="butt"/>
<line x1="181" y1="1501.8" x2="192.1" y2="1501.8" stroke="#000" stroke-width="2" stroke-linecap="butt"/>
<text transform="translate(176.9 1204.5) scale(1 1)" font-family="'Liberation Sans', sans-serif" font-size="43.5" text-anchor="end">5</text>
<text transform="translate(176.9 1282.4) scale(1 1)" font-family="'Liberation Sans', sans-serif" font-size="43.5" text-anchor="end">4</text>
<text transform="translate(176.9 1360.3) scale(1 1)" font-family="'Liberation Sans', sans-serif" font-size="43.5" text-anchor="end">3</text>
<text transform="translate(176.9 1438.3) scale(1 1)" font-family="'Liberation Sans', sans-serif" font-size="43.5" text-anchor="end">2</text>
<g transform="translate(152.71 1516.2)">
<text font-family="'Liberation Sans', sans-serif" font-size="43.5"><tspan dx="2.6">1</tspan></text>
<rect x="4.34" y="-4.48" width="9.24" height="5.98" fill="#fff"/>
<rect x="17.39" y="-4.48" width="8.7" height="5.98" fill="#fff"/>
</g>
<text transform="translate(176.9 1594.1) scale(1 1)" font-family="'Liberation Sans', sans-serif" font-size="43.5" text-anchor="end">0</text>
<text transform="translate(39 1490.5) rotate(-90) scale(1 1.02)" font-family="'Liberation Sans', sans-serif" font-size="48" text-anchor="start">Frequency</text>
<text transform="translate(95 1512.3) rotate(-90) scale(1 1.02)" font-family="'Liberation Sans', sans-serif" font-size="49.55" text-anchor="start">(counts/min)</text>
<line x1="210.62" y1="1434.1" x2="210.62" y2="1394.2" stroke="#000" stroke-width="2.1" stroke-linecap="butt"/>
<line x1="206.12" y1="1394.2" x2="215.12" y2="1394.2" stroke="#000" stroke-width="2.1" stroke-linecap="butt"/>
<line x1="229.07" y1="1496.6" x2="229.07" y2="1487.1" stroke="#000" stroke-width="2.1" stroke-linecap="butt"/>
<line x1="224.57" y1="1487.1" x2="233.57" y2="1487.1" stroke="#000" stroke-width="2.1" stroke-linecap="butt"/>
<line x1="247.53" y1="1480.7" x2="247.53" y2="1448.8" stroke="#000" stroke-width="2.1" stroke-linecap="butt"/>
<line x1="243.03" y1="1448.8" x2="252.03" y2="1448.8" stroke="#000" stroke-width="2.1" stroke-linecap="butt"/>
<line x1="265.98" y1="1506.2" x2="265.98" y2="1488" stroke="#000" stroke-width="2.1" stroke-linecap="butt"/>
<line x1="261.48" y1="1488" x2="270.48" y2="1488" stroke="#000" stroke-width="2.1" stroke-linecap="butt"/>
<line x1="284.43" y1="1511.6" x2="284.43" y2="1501.7" stroke="#000" stroke-width="2.1" stroke-linecap="butt"/>
<line x1="279.93" y1="1501.7" x2="288.93" y2="1501.7" stroke="#000" stroke-width="2.1" stroke-linecap="butt"/>
<path d="M201.4 1579.7V1434.7H219.85V1579.7" fill="#ffffff" stroke="#000" stroke-width="2" stroke-linejoin="miter"/>
<path d="M219.85 1579.7V1497.2H238.3V1579.7" fill="#d2d2d2" stroke="#000" stroke-width="2" stroke-linejoin="miter"/>
<path d="M238.3 1579.7V1481.3H256.75V1579.7" fill="#9f9f9f" stroke="#000" stroke-width="2" stroke-linejoin="miter"/>
<path d="M256.75 1579.7V1506.8H275.2V1579.7" fill="#606060" stroke="#000" stroke-width="2" stroke-linejoin="miter"/>
<path d="M275.2 1579.7V1512.2H293.65V1579.7" fill="#000000" stroke="#000" stroke-width="2" stroke-linejoin="miter"/>
<line x1="320.88" y1="1460" x2="320.88" y2="1428.8" stroke="#000" stroke-width="2.1" stroke-linecap="butt"/>
<line x1="316.38" y1="1428.8" x2="325.38" y2="1428.8" stroke="#000" stroke-width="2.1" stroke-linecap="butt"/>
<line x1="339.32" y1="1501.7" x2="339.32" y2="1483.4" stroke="#000" stroke-width="2.1" stroke-linecap="butt"/>
<line x1="334.82" y1="1483.4" x2="343.82" y2="1483.4" stroke="#000" stroke-width="2.1" stroke-linecap="butt"/>
<line x1="357.77" y1="1387.5" x2="357.77" y2="1353.2" stroke="#000" stroke-width="2.1" stroke-linecap="butt"/>
<line x1="353.27" y1="1353.2" x2="362.27" y2="1353.2" stroke="#000" stroke-width="2.1" stroke-linecap="butt"/>
<line x1="376.23" y1="1356.5" x2="376.23" y2="1333.6" stroke="#000" stroke-width="2.1" stroke-linecap="butt"/>
<line x1="371.73" y1="1333.6" x2="380.73" y2="1333.6" stroke="#000" stroke-width="2.1" stroke-linecap="butt"/>
<line x1="394.68" y1="1293.6" x2="394.68" y2="1253.9" stroke="#000" stroke-width="2.1" stroke-linecap="butt"/>
<line x1="390.18" y1="1253.9" x2="399.18" y2="1253.9" stroke="#000" stroke-width="2.1" stroke-linecap="butt"/>
<path d="M311.65 1579.7V1460.6H330.1V1579.7" fill="#ffffff" stroke="#000" stroke-width="2" stroke-linejoin="miter"/>
<path d="M330.1 1579.7V1502.3H348.55V1579.7" fill="#d2d2d2" stroke="#000" stroke-width="2" stroke-linejoin="miter"/>
<path d="M348.55 1579.7V1388.1H367V1579.7" fill="#9f9f9f" stroke="#000" stroke-width="2" stroke-linejoin="miter"/>
<path d="M367 1579.7V1357.1H385.45V1579.7" fill="#606060" stroke="#000" stroke-width="2" stroke-linejoin="miter"/>
<path d="M385.45 1579.7V1294.2H403.9V1579.7" fill="#000000" stroke="#000" stroke-width="2" stroke-linejoin="miter"/>
<line x1="431.12" y1="1434.2" x2="431.12" y2="1403.9" stroke="#000" stroke-width="2.1" stroke-linecap="butt"/>
<line x1="426.62" y1="1403.9" x2="435.62" y2="1403.9" stroke="#000" stroke-width="2.1" stroke-linecap="butt"/>
<line x1="449.57" y1="1491.8" x2="449.57" y2="1478.5" stroke="#000" stroke-width="2.1" stroke-linecap="butt"/>
<line x1="445.07" y1="1478.5" x2="454.07" y2="1478.5" stroke="#000" stroke-width="2.1" stroke-linecap="butt"/>
<line x1="468.02" y1="1407.8" x2="468.02" y2="1371.2" stroke="#000" stroke-width="2.1" stroke-linecap="butt"/>
<line x1="463.52" y1="1371.2" x2="472.52" y2="1371.2" stroke="#000" stroke-width="2.1" stroke-linecap="butt"/>
<line x1="486.48" y1="1387.6" x2="486.48" y2="1363.5" stroke="#000" stroke-width="2.1" stroke-linecap="butt"/>
<line x1="481.98" y1="1363.5" x2="490.98" y2="1363.5" stroke="#000" stroke-width="2.1" stroke-linecap="butt"/>
<line x1="504.93" y1="1350.4" x2="504.93" y2="1311.7" stroke="#000" stroke-width="2.1" stroke-linecap="butt"/>
<line x1="500.43" y1="1311.7" x2="509.43" y2="1311.7" stroke="#000" stroke-width="2.1" stroke-linecap="butt"/>
<path d="M421.9 1579.7V1434.8H440.35V1579.7" fill="#ffffff" stroke="#000" stroke-width="2" stroke-linejoin="miter"/>
<path d="M440.35 1579.7V1492.4H458.8V1579.7" fill="#d2d2d2" stroke="#000" stroke-width="2" stroke-linejoin="miter"/>
<path d="M458.8 1579.7V1408.4H477.25V1579.7" fill="#9f9f9f" stroke="#000" stroke-width="2" stroke-linejoin="miter"/>
<path d="M477.25 1579.7V1388.2H495.7V1579.7" fill="#606060" stroke="#000" stroke-width="2" stroke-linejoin="miter"/>
<path d="M495.7 1579.7V1351H514.15V1579.7" fill="#000000" stroke="#000" stroke-width="2" stroke-linejoin="miter"/>
<line x1="541.38" y1="1460" x2="541.38" y2="1431.1" stroke="#000" stroke-width="2.1" stroke-linecap="butt"/>
<line x1="536.88" y1="1431.1" x2="545.88" y2="1431.1" stroke="#000" stroke-width="2.1" stroke-linecap="butt"/>
<line x1="559.83" y1="1480.7" x2="559.83" y2="1465.8" stroke="#000" stroke-width="2.1" stroke-linecap="butt"/>
<line x1="555.33" y1="1465.8" x2="564.33" y2="1465.8" stroke="#000" stroke-width="2.1" stroke-linecap="butt"/>
<line x1="578.27" y1="1424" x2="578.27" y2="1390" stroke="#000" stroke-width="2.1" stroke-linecap="butt"/>
<line x1="573.77" y1="1390" x2="582.77" y2="1390" stroke="#000" stroke-width="2.1" stroke-linecap="butt"/>
<line x1="596.73" y1="1387.6" x2="596.73" y2="1363.5" stroke="#000" stroke-width="2.1" stroke-linecap="butt"/>
<line x1="592.23" y1="1363.5" x2="601.23" y2="1363.5" stroke="#000" stroke-width="2.1" stroke-linecap="butt"/>
<line x1="615.17" y1="1329.7" x2="615.17" y2="1273.9" stroke="#000" stroke-width="2.1" stroke-linecap="butt"/>
<line x1="610.67" y1="1273.9" x2="619.67" y2="1273.9" stroke="#000" stroke-width="2.1" stroke-linecap="butt"/>
<path d="M532.15 1579.7V1460.6H550.6V1579.7" fill="#ffffff" stroke="#000" stroke-width="2" stroke-linejoin="miter"/>
<path d="M550.6 1579.7V1481.3H569.05V1579.7" fill="#d2d2d2" stroke="#000" stroke-width="2" stroke-linejoin="miter"/>
<path d="M569.05 1579.7V1424.6H587.5V1579.7" fill="#9f9f9f" stroke="#000" stroke-width="2" stroke-linejoin="miter"/>
<path d="M587.5 1579.7V1388.2H605.95V1579.7" fill="#606060" stroke="#000" stroke-width="2" stroke-linejoin="miter"/>
<path d="M605.95 1579.7V1330.3H624.4V1579.7" fill="#000000" stroke="#000" stroke-width="2" stroke-linejoin="miter"/>
<line x1="651.62" y1="1470.5" x2="651.62" y2="1444.1" stroke="#000" stroke-width="2.1" stroke-linecap="butt"/>
<line x1="647.12" y1="1444.1" x2="656.12" y2="1444.1" stroke="#000" stroke-width="2.1" stroke-linecap="butt"/>
<line x1="670.08" y1="1480.7" x2="670.08" y2="1471.4" stroke="#000" stroke-width="2.1" stroke-linecap="butt"/>
<line x1="665.58" y1="1471.4" x2="674.58" y2="1471.4" stroke="#000" stroke-width="2.1" stroke-linecap="butt"/>
<line x1="688.52" y1="1424" x2="688.52" y2="1394.4" stroke="#000" stroke-width="2.1" stroke-linecap="butt"/>
<line x1="684.02" y1="1394.4" x2="693.02" y2="1394.4" stroke="#000" stroke-width="2.1" stroke-linecap="butt"/>
<line x1="706.98" y1="1387.6" x2="706.98" y2="1363.5" stroke="#000" stroke-width="2.1" stroke-linecap="butt"/>
<line x1="702.48" y1="1363.5" x2="711.48" y2="1363.5" stroke="#000" stroke-width="2.1" stroke-linecap="butt"/>
<line x1="725.42" y1="1366.5" x2="725.42" y2="1319.4" stroke="#000" stroke-width="2.1" stroke-linecap="butt"/>
<line x1="720.92" y1="1319.4" x2="729.92" y2="1319.4" stroke="#000" stroke-width="2.1" stroke-linecap="butt"/>
<path d="M642.4 1579.7V1471.1H660.85V1579.7" fill="#ffffff" stroke="#000" stroke-width="2" stroke-linejoin="miter"/>
<path d="M660.85 1579.7V1481.3H679.3V1579.7" fill="#d2d2d2" stroke="#000" stroke-width="2" stroke-linejoin="miter"/>
<path d="M679.3 1579.7V1424.6H697.75V1579.7" fill="#9f9f9f" stroke="#000" stroke-width="2" stroke-linejoin="miter"/>
<path d="M697.75 1579.7V1388.2H716.2V1579.7" fill="#606060" stroke="#000" stroke-width="2" stroke-linejoin="miter"/>
<path d="M716.2 1579.7V1367.1H734.65V1579.7" fill="#000000" stroke="#000" stroke-width="2" stroke-linejoin="miter"/>
<line x1="761.88" y1="1480.7" x2="761.88" y2="1465.8" stroke="#000" stroke-width="2.1" stroke-linecap="butt"/>
<line x1="757.38" y1="1465.8" x2="766.38" y2="1465.8" stroke="#000" stroke-width="2.1" stroke-linecap="butt"/>
<line x1="780.33" y1="1506.4" x2="780.33" y2="1487.8" stroke="#000" stroke-width="2.1" stroke-linecap="butt"/>
<line x1="775.83" y1="1487.8" x2="784.83" y2="1487.8" stroke="#000" stroke-width="2.1" stroke-linecap="butt"/>
<line x1="798.77" y1="1413.1" x2="798.77" y2="1384.4" stroke="#000" stroke-width="2.1" stroke-linecap="butt"/>
<line x1="794.27" y1="1384.4" x2="803.27" y2="1384.4" stroke="#000" stroke-width="2.1" stroke-linecap="butt"/>
<line x1="817.23" y1="1402.5" x2="817.23" y2="1377.7" stroke="#000" stroke-width="2.1" stroke-linecap="butt"/>
<line x1="812.73" y1="1377.7" x2="821.73" y2="1377.7" stroke="#000" stroke-width="2.1" stroke-linecap="butt"/>
<line x1="835.67" y1="1381.4" x2="835.67" y2="1329" stroke="#000" stroke-width="2.1" stroke-linecap="butt"/>
<line x1="831.17" y1="1329" x2="840.17" y2="1329" stroke="#000" stroke-width="2.1" stroke-linecap="butt"/>
<path d="M752.65 1579.7V1481.3H771.1V1579.7" fill="#ffffff" stroke="#000" stroke-width="2" stroke-linejoin="miter"/>
<path d="M771.1 1579.7V1507H789.55V1579.7" fill="#d2d2d2" stroke="#000" stroke-width="2" stroke-linejoin="miter"/>
<path d="M789.55 1579.7V1413.7H808V1579.7" fill="#9f9f9f" stroke="#000" stroke-width="2" stroke-linejoin="miter"/>
<path d="M808 1579.7V1403.1H826.45V1579.7" fill="#606060" stroke="#000" stroke-width="2" stroke-linejoin="miter"/>
<path d="M826.45 1579.7V1382H844.9V1579.7" fill="#000000" stroke="#000" stroke-width="2" stroke-linejoin="miter"/>
<line x1="872.12" y1="1496.5" x2="872.12" y2="1479.2" stroke="#000" stroke-width="2.1" stroke-linecap="butt"/>
<line x1="867.62" y1="1479.2" x2="876.62" y2="1479.2" stroke="#000" stroke-width="2.1" stroke-linecap="butt"/>
<line x1="890.58" y1="1486.3" x2="890.58" y2="1468.9" stroke="#000" stroke-width="2.1" stroke-linecap="butt"/>
<line x1="886.08" y1="1468.9" x2="895.08" y2="1468.9" stroke="#000" stroke-width="2.1" stroke-linecap="butt"/>
<line x1="909.02" y1="1407.8" x2="909.02" y2="1374" stroke="#000" stroke-width="2.1" stroke-linecap="butt"/>
<line x1="904.52" y1="1374" x2="913.52" y2="1374" stroke="#000" stroke-width="2.1" stroke-linecap="butt"/>
<line x1="927.48" y1="1413.1" x2="927.48" y2="1402.8" stroke="#000" stroke-width="2.1" stroke-linecap="butt"/>
<line x1="922.98" y1="1402.8" x2="931.98" y2="1402.8" stroke="#000" stroke-width="2.1" stroke-linecap="butt"/>
<line x1="945.92" y1="1376.2" x2="945.92" y2="1316.3" stroke="#000" stroke-width="2.1" stroke-linecap="butt"/>
<line x1="941.42" y1="1316.3" x2="950.42" y2="1316.3" stroke="#000" stroke-width="2.1" stroke-linecap="butt"/>
<path d="M862.9 1579.7V1497.1H881.35V1579.7" fill="#ffffff" stroke="#000" stroke-width="2" stroke-linejoin="miter"/>
<path d="M881.35 1579.7V1486.9H899.8V1579.7" fill="#d2d2d2" stroke="#000" stroke-width="2" stroke-linejoin="miter"/>
<path d="M899.8 1579.7V1408.4H918.25V1579.7" fill="#9f9f9f" stroke="#000" stroke-width="2" stroke-linejoin="miter"/>
<path d="M918.25 1579.7V1413.7H936.7V1579.7" fill="#606060" stroke="#000" stroke-width="2" stroke-linejoin="miter"/>
<path d="M936.7 1579.7V1376.8H955.15V1579.7" fill="#000000" stroke="#000" stroke-width="2" stroke-linejoin="miter"/>
<line x1="181" y1="1579.7" x2="965" y2="1579.7" stroke="#000" stroke-width="1.8" stroke-linecap="butt"/>
<text transform="translate(248.2 1633.4) scale(1 1.04)" font-family="'Liberation Sans', sans-serif" font-size="41" text-anchor="middle">Ctrl</text>
<g transform="translate(333.56 1632.3)">
<text font-family="'Liberation Sans', sans-serif" font-size="43.5"><tspan dx="2">1</tspan><tspan dx="-2.6">0</tspan></text>
<rect x="3.74" y="-4.48" width="9.24" height="5.98" fill="#fff"/>
<rect x="16.79" y="-4.48" width="8.7" height="5.98" fill="#fff"/>
</g>
<text transform="translate(467.8 1632.3) scale(1 1)" font-family="'Liberation Sans', sans-serif" font-size="43.5" text-anchor="middle">20</text>
<text transform="translate(578.05 1632.3) scale(1 1)" font-family="'Liberation Sans', sans-serif" font-size="43.5" text-anchor="middle">30</text>
<text transform="translate(688.3 1632.3) scale(1 1)" font-family="'Liberation Sans', sans-serif" font-size="43.5" text-anchor="middle">40</text>
<text transform="translate(798.55 1632.3) scale(1 1)" font-family="'Liberation Sans', sans-serif" font-size="43.5" text-anchor="middle">50</text>
<text transform="translate(908.8 1632.3) scale(1 1)" font-family="'Liberation Sans', sans-serif" font-size="43.5" text-anchor="middle">60</text>
<text x="351.8" y="1347.87" font-family="'Liberation Serif', serif" font-size="27.4" text-anchor="middle">##</text>
<text x="371" y="1324.97" font-family="'Liberation Serif', serif" font-size="27.4" text-anchor="middle">##</text>
<text x="393.15" y="1223.47" font-family="'Liberation Serif', serif" font-size="27.4" text-anchor="middle">##</text>
<text transform="translate(394.1 1254.48) scale(1 1.22)" font-family="'Liberation Serif', serif" font-size="32.4" text-anchor="middle" stroke="#000" stroke-width="0.7" stroke-linejoin="round">**</text>
<text x="469.5" y="1363.47" font-family="'Liberation Serif', serif" font-size="27.4" text-anchor="middle">#</text>
<text x="487.3" y="1342.67" font-family="'Liberation Serif', serif" font-size="27.4" text-anchor="middle">##</text>
<text x="505" y="1304.87" font-family="'Liberation Serif', serif" font-size="27.4" text-anchor="middle">##</text>
<text x="590.8" y="1355.67" font-family="'Liberation Serif', serif" font-size="27.4" text-anchor="middle">##</text>
<text x="614.2" y="1240.37" font-family="'Liberation Serif', serif" font-size="27.4" text-anchor="middle">##</text>
<text transform="translate(615.6 1274.38) scale(1 1.22)" font-family="'Liberation Serif', serif" font-size="32.4" text-anchor="middle" stroke="#000" stroke-width="0.7" stroke-linejoin="round">*</text>
<text x="707.8" y="1357.27" font-family="'Liberation Serif', serif" font-size="27.4" text-anchor="middle">##</text>
<text x="725.8" y="1313.17" font-family="'Liberation Serif', serif" font-size="27.4" text-anchor="middle">##</text>
<text x="796.6" y="1377.37" font-family="'Liberation Serif', serif" font-size="27.4" text-anchor="middle">#</text>
<text x="818.75" y="1365.87" font-family="'Liberation Serif', serif" font-size="27.4" text-anchor="middle">##</text>
<text x="837.2" y="1320.07" font-family="'Liberation Serif', serif" font-size="27.4" text-anchor="middle">##</text>
<text x="873.5" y="1469.87" font-family="'Liberation Serif', serif" font-size="27.4" text-anchor="middle">#</text>
<text x="908.8" y="1368.97" font-family="'Liberation Serif', serif" font-size="27.4" text-anchor="middle">#</text>
<text x="929.05" y="1344.17" font-family="'Liberation Serif', serif" font-size="27.4" text-anchor="middle">##</text>
<text x="947.2" y="1286.27" font-family="'Liberation Serif', serif" font-size="27.4" text-anchor="middle">##</text>
<text transform="translate(946.75 1319.38) scale(1 1.22)" font-family="'Liberation Serif', serif" font-size="32.4" text-anchor="middle" stroke="#000" stroke-width="0.7" stroke-linejoin="round">*</text>
</svg></body></html>
